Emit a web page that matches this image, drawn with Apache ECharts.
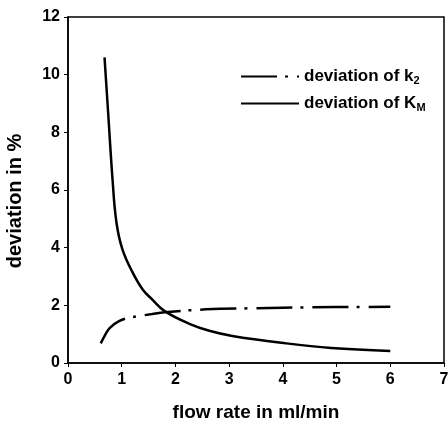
<!DOCTYPE html>
<html>
<head>
<meta charset="utf-8">
<script src="https://cdn.jsdelivr.net/npm/echarts@6/dist/echarts.min.js"></script>
<style>
html, body { margin: 0; padding: 0; background: #fff; }
#chart { width: 448px; height: 426px; }
</style>
</head>
<body>
<div id="chart"></div>
<script>
// values
var kmX = [0.68, 0.75, 0.83, 0.9, 1.01, 1.2, 1.39, 1.57, 1.8, 2.26, 2.63, 3.06, 3.98, 4.9, 6.0];
var kmY = [10.6, 8.6, 6.34, 4.9, 3.96, 3.15, 2.55, 2.2, 1.8, 1.36, 1.12, 0.94, 0.70, 0.52, 0.42];
var k2X = [0.61, 0.7, 0.78, 0.95, 1.15, 1.57, 1.8, 2.57, 3.5, 4.5, 6.0];
var k2Y = [0.68, 1.0, 1.22, 1.45, 1.57, 1.7, 1.76, 1.86, 1.9, 1.93, 1.95];
var seriesNames = ['k2', 'KM'];
var legendText = { k2: 'deviation of k{sub|2}', KM: 'deviation of K{sub|M}' };

function pairs(xs, ys) {
    return xs.map(function (x, i) { return [x, ys[i]]; });
}

var font = 'Liberation Sans, Arial, sans-serif';
var legendStyle = {
    fontFamily: font, fontSize: 17, fontWeight: 'bold', color: '#000',
    rich: { sub: { fontFamily: font, fontSize: 11, fontWeight: 'bold', color: '#000', padding: [9, 0, 0, 0] } }
};

var myChart = echarts.init(document.getElementById('chart'));
myChart.setOption({
    animation: false,
    grid: {
        left: 68, right: 4, top: 17, bottom: 63, outerBoundsMode: 'none',
        show: true, borderColor: '#000', borderWidth: 1.5
    },
    legend: [
        {
            data: [seriesNames[0]], left: 240, top: 68, padding: 0, itemWidth: 58, itemHeight: 10,
            itemStyle: { opacity: 0 },
            formatter: function (n) { return legendText[n]; }, textStyle: legendStyle
        },
        {
            data: [seriesNames[1]], left: 240, top: 95, padding: 0, itemWidth: 58, itemHeight: 10,
            itemStyle: { opacity: 0 },
            formatter: function (n) { return legendText[n]; }, textStyle: legendStyle
        }
    ],
    xAxis: {
        type: 'value', min: 0, max: 7, interval: 1,
        name: 'flow rate in ml/min', nameLocation: 'middle', nameGap: 40,
        nameTextStyle: { fontFamily: font, fontSize: 19, fontWeight: 'bold', color: '#000' },
        axisLine: { lineStyle: { color: '#000', width: 1.5 } },
        axisTick: { length: 4, lineStyle: { color: '#000' } },
        axisLabel: { fontFamily: font, fontSize: 16, fontWeight: 'bold', color: '#000', margin: 9 },
        splitLine: { show: false }
    },
    yAxis: {
        type: 'value', min: 0, max: 12, interval: 2,
        name: 'deviation in %', nameLocation: 'middle', nameGap: 43,
        nameTextStyle: { fontFamily: font, fontSize: 20, fontWeight: 'bold', color: '#000', padding: [0, 22, 0, 0] },
        axisLine: { show: true, lineStyle: { color: '#000', width: 1.5 } },
        axisTick: { show: true, length: 4, lineStyle: { color: '#000' } },
        axisLabel: { fontFamily: font, fontSize: 16, fontWeight: 'bold', color: '#000', margin: 8 },
        splitLine: { show: false }
    },
    series: [
        {
            name: seriesNames[0], type: 'line', data: pairs(k2X, k2Y), smooth: 0.4,
            showSymbol: false, symbol: 'none',
            itemStyle: { color: '#000' },
            lineStyle: { color: '#000', width: 2.5, type: [36, 8, 3, 9] }
        },
        {
            name: seriesNames[1], type: 'line', data: pairs(kmX, kmY), smooth: 0.4,
            showSymbol: false, symbol: 'none',
            itemStyle: { color: '#000' },
            lineStyle: { color: '#000', width: 2.5 }
        }
    ]
});
</script>
</body>
</html>
